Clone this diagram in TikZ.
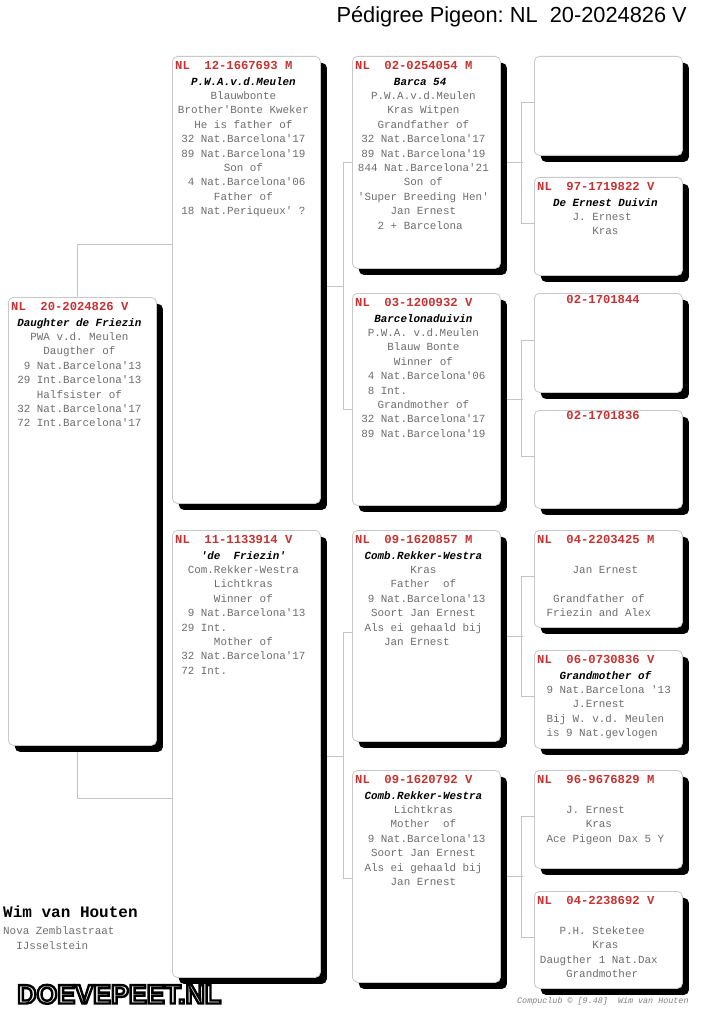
\documentclass[tikz,border=0pt]{standalone}
\usepackage{fontspec}
\setsansfont{Liberation Sans}
\setmonofont{Liberation Mono}
\usetikzlibrary{shadows,backgrounds}

\definecolor{pedred}{HTML}{C83232}
\definecolor{bodygray}{HTML}{6E6E6E}
\definecolor{boxline}{HTML}{C8C8C8}
\definecolor{linkgray}{HTML}{C4C4C4}

\newcommand{\sq}{\hphantom{0}}
\newcommand{\nm}[1]{\textcolor{black}{\bfseries\itshape #1}}
\newcommand{\card}[4][13.5]{%
  \node[hdr] (#2-ring) at ([shift={(3,#1)}]#2.north west) {#3};
  \node[body] (#2-text) at ([shift={(-3,18.9)}]#2.north) {\strut#4};
}
\newcommand{\hollow}[1]{{\color{white}\special{pdf:literal direct 2 Tr 2.4 w 0 G}#1\special{pdf:literal direct 0 Tr}}}
\frenchspacing

\begin{document}
\begin{tikzpicture}[x=1pt,y=-1pt,
  pbox/.style={draw=boxline,fill=white,line width=0.8pt,rounded corners=5pt,
    minimum width=148pt,inner sep=0pt,anchor=north west,
    drop shadow={shadow xshift=6.5pt,shadow yshift=-6.5pt,fill=black,opacity=1}},
  link/.style={draw=linkgray,line width=0.8pt},
  hdr/.style={anchor=base west,inner sep=0pt,text=pedred,
    font=\ttfamily\bfseries\fontsize{12.2}{14}\selectfont},
  body/.style={anchor=north,align=center,inner sep=0pt,text=bodygray,
    font=\ttfamily\fontsize{10.9}{14.4}\selectfont}]
\useasboundingbox (0,0) rectangle (724,1024);

% title
\node[anchor=base east,inner sep=0pt,font=\sffamily\fontsize{21.8}{26}\selectfont] (title) at (687,23) {Pédigree Pigeon: NL\ \ 20-2024826 V};

% boxes
\foreach \n/\x/\y/\h in {S/8/297/448, F/172/56/447, M/172/530/447,
  FF/352/56/212, FM/352/293/212, MF/352/530/211, MM/352/770/212,
  FFF/534/56/99, FFM/534/177/98, FMF/534/293/99, FMM/534/410/98,
  MFF/534/530/97, MFM/534/650/98, MMF/534/770/98, MMM/534/891/97}
  \node[pbox,minimum height=\h pt] (\n) at (\x,\y) {};

% lines between the generations
\begin{scope}[on background layer]
\draw[link] ([xshift=-5.5pt]S.north) |- ([yshift=35.5pt]F.west);
\draw[link] ([xshift=-5.5pt]S.south) |- ([yshift=-44.5pt]M.west);
\draw[link] ([yshift=-6.5pt]F.east) -- ++(23,0);
\draw[link] (FF.west) -- ++(-9,0) |- ([yshift=-10pt]FM.west);
\draw[link] ([yshift=-2.5pt]M.east) -- ++(23,0);
\draw[link] ([yshift=4pt]MF.west) -- ++(-9,0) |- ([yshift=-2pt]MM.west);
\foreach \a/\b/\c in {FF/FFF/FFM, FM/FMF/FMM, MF/MFF/MFM, MM/MMF/MMM} {
  \draw[link] (\a.east) -- ++(22,0);
  \draw[link] ([yshift=3pt]\b.west) -- ++(-13,0) |- ([yshift=3pt]\c.west);
}
\end{scope}

\card{S}{NL~~20-2024826 V}{\nm{Daughter de Friezin}\\PWA v.d. Meulen\\Daugther of\\\sq 9 Nat.Barcelona'13\\29 Int.Barcelona'13\\Halfsister of\\32 Nat.Barcelona'17\\72 Int.Barcelona'17}
\card{F}{NL~~12-1667693 M}{\nm{P.W.A.v.d.Meulen}\\Blauwbonte\\Brother'Bonte Kweker\\He is father of\\32 Nat.Barcelona'17\\89 Nat.Barcelona'19\\Son of\\\sq 4 Nat.Barcelona'06\\Father of\\18 Nat.Periqueux' ?}
\card{M}{NL~~11-1133914 V}{\nm{'de~~Friezin'}\\Com.Rekker-Westra\\Lichtkras\\Winner of\\\sq 9 Nat.Barcelona'13\\29 Int.\phantom{Barcelona'13}\\Mother of\\32 Nat.Barcelona'17\\72 Int.\phantom{Barcelona'17}}
\card{FF}{NL~~02-0254054 M}{\nm{Barca 54}\sq\\P.W.A.v.d.Meulen\\Kras Witpen\\Grandfather of\\32 Nat.Barcelona'17\\89 Nat.Barcelona'19\\844 Nat.Barcelona'21\\Son of\\'Super Breeding Hen'\\Jan Ernest\\2 + Barcelona\sq}
\card{FM}{NL~~03-1200932 V}{\nm{Barcelonaduivin}\\P.W.A. v.d.Meulen\\Blauw Bonte\\Winner of\\\sq 4 Nat.Barcelona'06\\\sq 8 Int.\phantom{Barcelona'06}\\Grandmother of\\32 Nat.Barcelona'17\\89 Nat.Barcelona'19}
\card{MF}{NL~~09-1620857 M}{\nm{Comb.Rekker-Westra}\\Kras\\Father~~of\\\sq 9 Nat.Barcelona'13\\Soort Jan Ernest\\Als ei gehaald bij\\Jan Ernest\sq\sq}
\card{MM}{NL~~09-1620792 V}{\nm{Comb.Rekker-Westra}\\Lichtkras\\Mother~~of\\\sq 9 Nat.Barcelona'13\\Soort Jan Ernest\\Als ei gehaald bij\\Jan Ernest}
\card{FFM}{NL~~97-1719822 V}{\nm{De Ernest Duivin}\\J. Ernest\sq\\Kras}
\card[10]{FMF}{\sq\sq\sq\sq 02-1701844}{}
\card[9.5]{FMM}{\sq\sq\sq\sq 02-1701836}{}
\card{MFF}{NL~~04-2203425 M}{\\Jan Ernest\\\strut\\Grandfather of\sq\sq\\Friezin and Alex\sq\sq}
\card{MFM}{NL~~06-0730836 V}{\nm{Grandmother of}\\\sq 9 Nat.Barcelona '13\\J.Ernest\sq\sq\\Bij W. v.d. Meulen\\is 9 Nat.gevlogen\sq}
\card{MMF}{NL~~96-9676829 M}{\\J. Ernest\sq\sq\sq\\Kras\sq\sq\\Ace Pigeon Dax 5 Y}
\card{MMM}{NL~~04-2238692 V}{\\P.H. Steketee\sq\\Kras\\Daugther 1 Nat.Dax\sq\sq\\Grandmother\sq}

% owner and footer
\node[anchor=base west,inner sep=0pt,font=\ttfamily\bfseries\fontsize{16}{18}\selectfont] (owner) at (3,917) {Wim van Houten};
\node[anchor=base west,inner sep=0pt,text=bodygray,font=\ttfamily\fontsize{10.9}{14.4}\selectfont] (street) at (3,934.5) {Nova Zemblastraat};
\node[anchor=base west,inner sep=0pt,text=bodygray,font=\ttfamily\fontsize{10.9}{14.4}\selectfont] (town) at (3,949) {\sq\sq IJsselstein};
\node[anchor=base west,inner sep=0pt,text=gray,font=\ttfamily\itshape\fontsize{8.4}{10}\selectfont] (credit) at (517,1003.5) {Compuclub © [9.48]~~Wim van Houten};
\node[anchor=base west,inner sep=0pt,font=\sffamily\bfseries\fontsize{26.8}{30}\selectfont] (mark) at (17,1003.5) {\hollow{DOEVEPEET.NL}};
\end{tikzpicture}
\end{document}
